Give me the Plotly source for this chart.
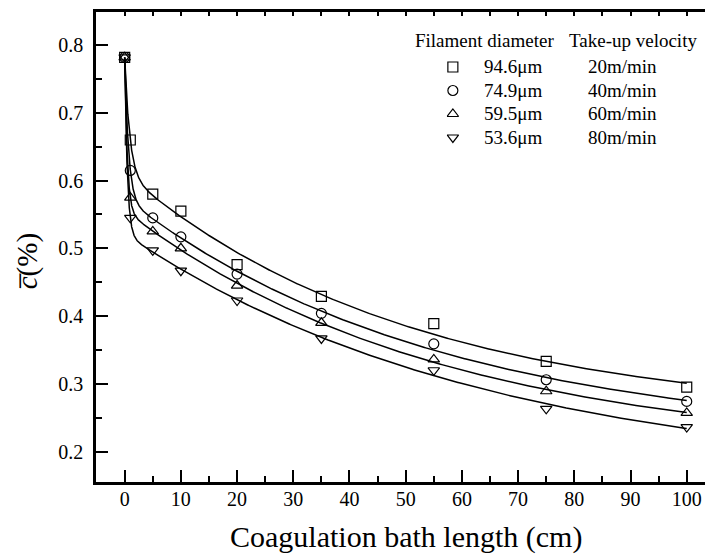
import numpy as np
import plotly.graph_objects as go

# Coagulation bath length (cm)
bath_length = [0, 1, 5, 10, 20, 35, 55, 75, 100]

# Mean concentration c̄ (%) for each spinning condition
c_94_6 = [0.782, 0.660, 0.580, 0.555, 0.476, 0.429, 0.389, 0.333, 0.295]
c_74_9 = [0.782, 0.615, 0.545, 0.517, 0.462, 0.404, 0.359, 0.306, 0.274]
c_59_5 = [0.782, 0.575, 0.525, 0.500, 0.445, 0.390, 0.336, 0.289, 0.257]
c_53_6 = [0.782, 0.545, 0.497, 0.467, 0.423, 0.367, 0.320, 0.263, 0.236]

diameters = ["94.6\u03bcm", "74.9\u03bcm", "59.5\u03bcm", "53.6\u03bcm"]
velocities = ["20m/min", "40m/min", "60m/min", "80m/min"]
symbols = ["square-open", "circle-open", "triangle-up-open", "triangle-down-open"]
series = [c_94_6, c_74_9, c_59_5, c_53_6]

FONT = "Liberation Serif"


def fit_expdec2(x, y):
    """Second-order exponential decay fit: y = A1 e^(-x/t1) + A2 e^(-x/t2) + y0."""
    x = np.asarray(x, float)
    y = np.asarray(y, float)
    best = None
    for t1 in np.logspace(-1.3, 1.0, 80):
        for t2 in np.logspace(1.0, 3.0, 100):
            A = np.column_stack([np.exp(-x / t1), np.exp(-x / t2), np.ones_like(x)])
            coef, *_ = np.linalg.lstsq(A, y, rcond=None)
            r = float(np.sum((A @ coef - y) ** 2))
            if best is None or r < best[0]:
                best = (r, t1, t2, coef)
    _, t1, t2, coef = best

    def f(xx):
        xx = np.asarray(xx, float)
        return coef[0] * np.exp(-xx / t1) + coef[1] * np.exp(-xx / t2) + coef[2]
    return f


xs_fit = np.concatenate([np.linspace(0, 5, 400), np.linspace(5, max(bath_length), 400)[1:]])

fig = go.Figure()

for vals in series:
    f = fit_expdec2(bath_length, vals)
    fig.add_trace(go.Scatter(
        x=xs_fit, y=f(xs_fit), mode="lines",
        line=dict(color="black", width=1.5),
        showlegend=False, hoverinfo="skip",
    ))

for vals, sym, d in zip(series, symbols, diameters):
    fig.add_trace(go.Scatter(
        x=bath_length, y=vals, mode="markers",
        marker=dict(symbol=sym, size=10, color="black", line=dict(color="black", width=1.2)),
        name=d, showlegend=False,
    ))

# key symbols: one row per condition on a small hidden categorical axis pair
fig.add_trace(go.Scatter(
    x=["key"] * len(diameters), y=diameters, mode="markers",
    marker=dict(symbol=symbols, size=10, color="black", line=dict(color="black", width=1.2)),
    xaxis="x3", yaxis="y3", showlegend=False, hoverinfo="skip",
))

# top frame line with short inward ticks
fig.add_trace(go.Scatter(x=[None], y=[None], xaxis="x2", showlegend=False))

# key layout (paper fractions)
row_y = [0.883, 0.833, 0.783, 0.733]
key_font = dict(size=19)
key_annotations = [
    dict(text="Filament diameter", x=0.5205, y=0.940, xref="paper", yref="paper",
         xanchor="left", yanchor="middle", showarrow=False, font=key_font),
    dict(text="Take-up velocity", x=0.7735, y=0.940, xref="paper", yref="paper",
         xanchor="left", yanchor="middle", showarrow=False, font=key_font),
]
for yy, d, v in zip(row_y, diameters, velocities):
    key_annotations.append(dict(text=d, x=0.634, y=yy, xref="paper", yref="paper",
                                xanchor="left", yanchor="middle", showarrow=False,
                                font=key_font))
    key_annotations.append(dict(text=v, x=0.805, y=yy, xref="paper", yref="paper",
                                xanchor="left", yanchor="middle", showarrow=False,
                                font=key_font))

fig.update_layout(
    width=705, height=558,
    margin=dict(l=96, r=0, t=12, b=76),
    paper_bgcolor="white", plot_bgcolor="white",
    font=dict(family=FONT, color="black", size=20),
    showlegend=False,
    xaxis=dict(
        range=[-5.1, 103.25], tick0=0, dtick=10,
        showline=True, linecolor="black", linewidth=2.5,
        ticks="inside", ticklen=12, tickwidth=2, tickcolor="black",
        minor=dict(dtick=5, ticks="inside", ticklen=6, tickwidth=2, tickcolor="black"),
        showgrid=False, zeroline=False,
        tickfont=dict(size=20), ticklabelstandoff=-3,
    ),
    xaxis2=dict(
        overlaying="x", matches="x", side="top", range=[-5.1, 103.25],
        tick0=0, dtick=10,
        showline=True, linecolor="black", linewidth=2.5,
        ticks="inside", ticklen=4, tickwidth=2, tickcolor="black",
        minor=dict(dtick=5, ticks="inside", ticklen=4, tickwidth=2, tickcolor="black"),
        showticklabels=False, showgrid=False, zeroline=False,
    ),
    xaxis3=dict(domain=[0.576, 0.596], anchor="y3", type="category",
                range=[-0.5, 0.5], visible=False, fixedrange=True),
    yaxis3=dict(domain=[0.708, 0.908], anchor="x3", type="category",
                categoryorder="array", categoryarray=diameters,
                range=[3.5, -0.5], visible=False, fixedrange=True),
    yaxis=dict(
        range=[0.155, 0.849], tick0=0.2, dtick=0.1, tickformat=".1f",
        showline=True, linecolor="black", linewidth=2.5,
        ticks="inside", ticklen=12, tickwidth=2, tickcolor="black",
        minor=dict(dtick=0.05, ticks="inside", ticklen=6, tickwidth=2, tickcolor="black"),
        showgrid=False, zeroline=False,
        tickfont=dict(size=20), ticklabelstandoff=6,
    ),
    annotations=key_annotations + [
        dict(text="Coagulation bath length (cm)", x=50, xref="x", y=-0.117, yref="paper",
             xanchor="center", yanchor="middle", showarrow=False, font=dict(size=30)),
        dict(text="<i>c\u0305</i>(%)", x=-0.113, xref="paper", y=0.47, yref="paper",
             xanchor="center", yanchor="middle", textangle=-90, showarrow=False,
             font=dict(size=29)),
    ],
)

fig.write_html("out.html")
